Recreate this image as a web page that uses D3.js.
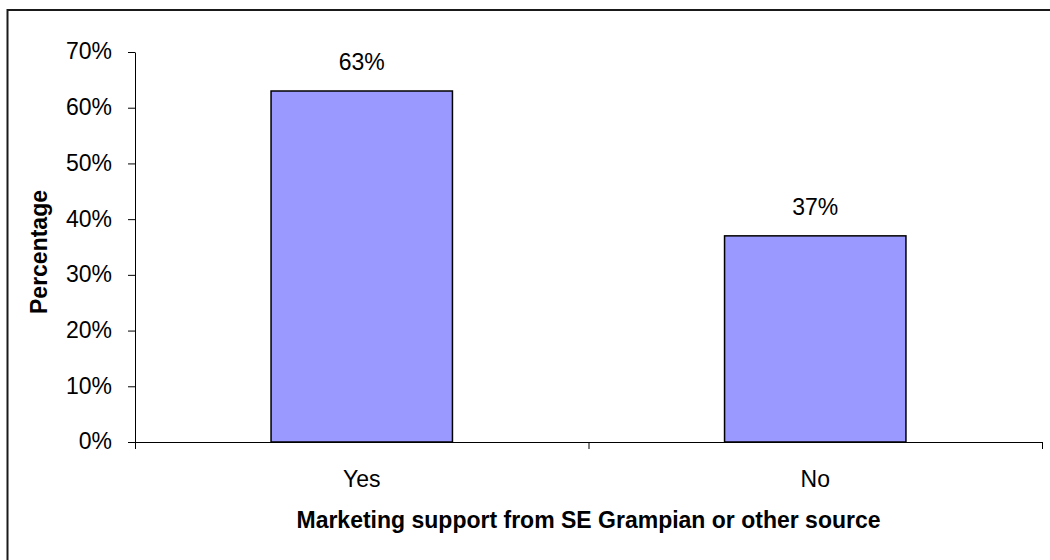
<!DOCTYPE html>
<html>
<head>
<meta charset="utf-8">
<script src="https://cdn.jsdelivr.net/npm/d3@7/dist/d3.min.js"></script>
<style>
  html, body { margin: 0; padding: 0; background: #ffffff; }
  svg { display: block; }
  text { font-family: Arial, "Liberation Sans", sans-serif; fill: #000; }
</style>
</head>
<body>
<svg id="chart" width="1050" height="560"></svg>
<script>
// Survey answers and their shares
const categories = ["Yes", "No"];
const values = [0.63, 0.37];
const yTicks = [0, 0.1, 0.2, 0.3, 0.4, 0.5, 0.6, 0.7];
const xTitle = "Marketing support from SE Grampian or other source";
const yTitle = "Percentage";

const svg = d3.select("#chart");
const W = 1050, H = 560;
const plot = { left: 135, right: 1042, top: 52, bottom: 442 };
const fontSize = 23;

// Chart frame (its right and bottom edges run past the canvas)
svg.append("rect")
  .attr("x", 7.5).attr("y", 10)
  .attr("width", W + 20).attr("height", H + 20)
  .attr("fill", "#fff")
  .attr("stroke", "#1a1a1a")
  .attr("stroke-width", 2);

const x = d3.scaleBand()
  .domain(categories)
  .range([plot.left, plot.right])
  .paddingInner(0.6)
  .paddingOuter(0.3);

const y = d3.scaleLinear()
  .domain([0, 0.7])
  .range([plot.bottom, plot.top]);

// Y axis
const yAxis = svg.append("g")
  .attr("transform", `translate(${plot.left},0)`)
  .call(d3.axisLeft(y)
    .tickValues(yTicks)
    .tickFormat(d3.format(".0%"))
    .tickSize(7)
    .tickSizeOuter(0)
    .tickPadding(16));
yAxis.selectAll("text").attr("font-size", fontSize).attr("dy", "0.3em")
  .style("font-family", "Arial, 'Liberation Sans', sans-serif");
yAxis.selectAll("line, path").attr("stroke", "#000").attr("stroke-width", 1);

// Bars
svg.append("g").selectAll("rect")
  .data(categories)
  .join("rect")
  .attr("x", d => x(d))
  .attr("width", x.bandwidth())
  .attr("y", (d, i) => y(values[i]))
  .attr("height", (d, i) => y(0) - y(values[i]))
  .attr("fill", "#9999ff")
  .attr("stroke", "#000")
  .attr("stroke-width", 1.5);

// Value labels above bars
svg.append("g").selectAll("text")
  .data(categories)
  .join("text")
  .attr("x", d => x(d) + x.bandwidth() / 2)
  .attr("y", (d, i) => y(values[i]) - 21)
  .attr("text-anchor", "middle")
  .attr("font-size", fontSize)
  .text((d, i) => d3.format(".0%")(values[i]));

// X axis: tick marks at category boundaries
const xEdges = d3.scaleLinear().domain([0, categories.length]).range([plot.left, plot.right]);
const xAxis = svg.append("g")
  .attr("transform", `translate(0,${plot.bottom})`)
  .call(d3.axisBottom(xEdges)
    .tickValues(d3.range(categories.length + 1))
    .tickFormat("")
    .tickSize(7)
    .tickSizeOuter(0));
xAxis.selectAll("line, path").attr("stroke", "#000").attr("stroke-width", 1);

// Category labels
const xLabels = svg.append("g")
  .attr("transform", `translate(0,${plot.bottom})`)
  .call(d3.axisBottom(x).tickSize(0).tickPadding(29));
xLabels.select(".domain").remove();
xLabels.selectAll("text").attr("font-size", fontSize)
  .style("font-family", "Arial, 'Liberation Sans', sans-serif");

// Axis titles
svg.append("text")
  .attr("x", (plot.left + plot.right) / 2)
  .attr("y", 528)
  .attr("text-anchor", "middle")
  .attr("font-size", fontSize)
  .attr("font-weight", "bold")
  .text(xTitle);

svg.append("text")
  .attr("transform", `translate(46.5,${(plot.top + plot.bottom) / 2 + 5}) rotate(-90)`)
  .attr("text-anchor", "middle")
  .attr("font-size", fontSize)
  .attr("font-weight", "bold")
  .text(yTitle);
</script>
</body>
</html>
